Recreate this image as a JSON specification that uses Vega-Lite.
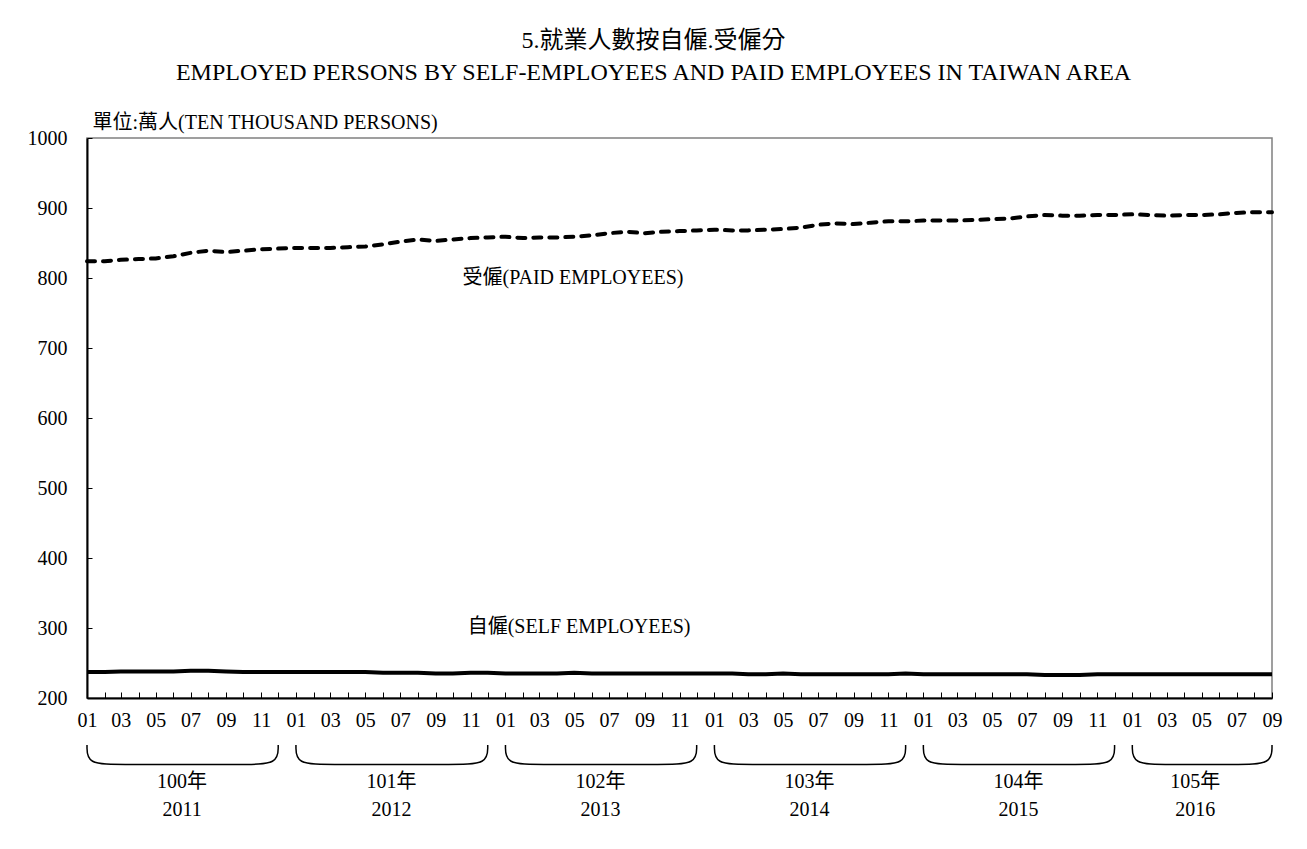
{
  "$schema": "https://vega.github.io/schema/vega-lite/v6.json",
  "width": 1185,
  "height": 560,
  "autosize": {"type": "none"},
  "padding": {"left": 87, "top": 138, "right": 35, "bottom": 151},
  "background": "white",
  "title": {
    "text": ["5.就業人數按自僱.受僱分", "EMPLOYED PERSONS BY SELF-EMPLOYEES AND PAID EMPLOYEES IN TAIWAN AREA"],
    "anchor": "middle",
    "dx": -26,
    "font": "Liberation Serif, Noto Sans CJK TC",
    "fontSize": 24,
    "fontWeight": "normal",
    "color": "black",
    "lineHeight": 32,
    "offset": 27
  },
  "config": {
    "view": {"stroke": "#808080", "strokeWidth": 1.5},
    "axis": {"grid": false}
  },
  "datasets": {
    "emp": [
      {"m": "2011-01-01", "paid": 824, "self": 237},
      {"m": "2011-02-01", "paid": 824, "self": 237},
      {"m": "2011-03-01", "paid": 826, "self": 238},
      {"m": "2011-04-01", "paid": 827, "self": 238},
      {"m": "2011-05-01", "paid": 828, "self": 238},
      {"m": "2011-06-01", "paid": 831, "self": 238},
      {"m": "2011-07-01", "paid": 836, "self": 239},
      {"m": "2011-08-01", "paid": 839, "self": 239},
      {"m": "2011-09-01", "paid": 837, "self": 238},
      {"m": "2011-10-01", "paid": 839, "self": 237},
      {"m": "2011-11-01", "paid": 841, "self": 237},
      {"m": "2011-12-01", "paid": 842, "self": 237},
      {"m": "2012-01-01", "paid": 843, "self": 237},
      {"m": "2012-02-01", "paid": 843, "self": 237},
      {"m": "2012-03-01", "paid": 843, "self": 237},
      {"m": "2012-04-01", "paid": 844, "self": 237},
      {"m": "2012-05-01", "paid": 845, "self": 237},
      {"m": "2012-06-01", "paid": 848, "self": 236},
      {"m": "2012-07-01", "paid": 852, "self": 236},
      {"m": "2012-08-01", "paid": 855, "self": 236},
      {"m": "2012-09-01", "paid": 853, "self": 235},
      {"m": "2012-10-01", "paid": 855, "self": 235},
      {"m": "2012-11-01", "paid": 857, "self": 236},
      {"m": "2012-12-01", "paid": 858, "self": 236},
      {"m": "2013-01-01", "paid": 859, "self": 235},
      {"m": "2013-02-01", "paid": 857, "self": 235},
      {"m": "2013-03-01", "paid": 858, "self": 235},
      {"m": "2013-04-01", "paid": 858, "self": 235},
      {"m": "2013-05-01", "paid": 859, "self": 236},
      {"m": "2013-06-01", "paid": 861, "self": 235},
      {"m": "2013-07-01", "paid": 864, "self": 235},
      {"m": "2013-08-01", "paid": 866, "self": 235},
      {"m": "2013-09-01", "paid": 864, "self": 235},
      {"m": "2013-10-01", "paid": 866, "self": 235},
      {"m": "2013-11-01", "paid": 867, "self": 235},
      {"m": "2013-12-01", "paid": 868, "self": 235},
      {"m": "2014-01-01", "paid": 869, "self": 235},
      {"m": "2014-02-01", "paid": 868, "self": 235},
      {"m": "2014-03-01", "paid": 868, "self": 234},
      {"m": "2014-04-01", "paid": 869, "self": 234},
      {"m": "2014-05-01", "paid": 870, "self": 235},
      {"m": "2014-06-01", "paid": 872, "self": 234},
      {"m": "2014-07-01", "paid": 876, "self": 234},
      {"m": "2014-08-01", "paid": 878, "self": 234},
      {"m": "2014-09-01", "paid": 877, "self": 234},
      {"m": "2014-10-01", "paid": 879, "self": 234},
      {"m": "2014-11-01", "paid": 881, "self": 234},
      {"m": "2014-12-01", "paid": 881, "self": 235},
      {"m": "2015-01-01", "paid": 882, "self": 234},
      {"m": "2015-02-01", "paid": 882, "self": 234},
      {"m": "2015-03-01", "paid": 882, "self": 234},
      {"m": "2015-04-01", "paid": 883, "self": 234},
      {"m": "2015-05-01", "paid": 884, "self": 234},
      {"m": "2015-06-01", "paid": 885, "self": 234},
      {"m": "2015-07-01", "paid": 888, "self": 234},
      {"m": "2015-08-01", "paid": 890, "self": 233},
      {"m": "2015-09-01", "paid": 889, "self": 233},
      {"m": "2015-10-01", "paid": 889, "self": 233},
      {"m": "2015-11-01", "paid": 890, "self": 234},
      {"m": "2015-12-01", "paid": 890, "self": 234},
      {"m": "2016-01-01", "paid": 891, "self": 234},
      {"m": "2016-02-01", "paid": 890, "self": 234},
      {"m": "2016-03-01", "paid": 889, "self": 234},
      {"m": "2016-04-01", "paid": 890, "self": 234},
      {"m": "2016-05-01", "paid": 890, "self": 234},
      {"m": "2016-06-01", "paid": 891, "self": 234},
      {"m": "2016-07-01", "paid": 893, "self": 234},
      {"m": "2016-08-01", "paid": 894, "self": 234},
      {"m": "2016-09-01", "paid": 894, "self": 234}
    ],
    "brackets": [
      {"yr": "2011", "k": 0, "t": "2011-01-01", "v": 133},
      {"yr": "2011", "k": 1, "t": "2011-01-01", "v": 105},
      {"yr": "2011", "k": 2, "t": "2011-03-01", "v": 105},
      {"yr": "2011", "k": 3, "t": "2011-10-01", "v": 105},
      {"yr": "2011", "k": 4, "t": "2011-12-01", "v": 105},
      {"yr": "2011", "k": 5, "t": "2011-12-01", "v": 133},
      {"yr": "2012", "k": 0, "t": "2012-01-01", "v": 133},
      {"yr": "2012", "k": 1, "t": "2012-01-01", "v": 105},
      {"yr": "2012", "k": 2, "t": "2012-03-01", "v": 105},
      {"yr": "2012", "k": 3, "t": "2012-10-01", "v": 105},
      {"yr": "2012", "k": 4, "t": "2012-12-01", "v": 105},
      {"yr": "2012", "k": 5, "t": "2012-12-01", "v": 133},
      {"yr": "2013", "k": 0, "t": "2013-01-01", "v": 133},
      {"yr": "2013", "k": 1, "t": "2013-01-01", "v": 105},
      {"yr": "2013", "k": 2, "t": "2013-03-01", "v": 105},
      {"yr": "2013", "k": 3, "t": "2013-10-01", "v": 105},
      {"yr": "2013", "k": 4, "t": "2013-12-01", "v": 105},
      {"yr": "2013", "k": 5, "t": "2013-12-01", "v": 133},
      {"yr": "2014", "k": 0, "t": "2014-01-01", "v": 133},
      {"yr": "2014", "k": 1, "t": "2014-01-01", "v": 105},
      {"yr": "2014", "k": 2, "t": "2014-03-01", "v": 105},
      {"yr": "2014", "k": 3, "t": "2014-10-01", "v": 105},
      {"yr": "2014", "k": 4, "t": "2014-12-01", "v": 105},
      {"yr": "2014", "k": 5, "t": "2014-12-01", "v": 133},
      {"yr": "2015", "k": 0, "t": "2015-01-01", "v": 133},
      {"yr": "2015", "k": 1, "t": "2015-01-01", "v": 105},
      {"yr": "2015", "k": 2, "t": "2015-03-01", "v": 105},
      {"yr": "2015", "k": 3, "t": "2015-10-01", "v": 105},
      {"yr": "2015", "k": 4, "t": "2015-12-01", "v": 105},
      {"yr": "2015", "k": 5, "t": "2015-12-01", "v": 133},
      {"yr": "2016", "k": 0, "t": "2016-01-01", "v": 133},
      {"yr": "2016", "k": 1, "t": "2016-01-01", "v": 105},
      {"yr": "2016", "k": 2, "t": "2016-03-01", "v": 105},
      {"yr": "2016", "k": 3, "t": "2016-07-01", "v": 105},
      {"yr": "2016", "k": 4, "t": "2016-09-01", "v": 105},
      {"yr": "2016", "k": 5, "t": "2016-09-01", "v": 133}
    ],
    "years": [
      {"t": "2011-06-16", "roc": "100年", "ad": "2011"},
      {"t": "2012-06-16", "roc": "101年", "ad": "2012"},
      {"t": "2013-06-16", "roc": "102年", "ad": "2013"},
      {"t": "2014-06-16", "roc": "103年", "ad": "2014"},
      {"t": "2015-06-16", "roc": "104年", "ad": "2015"},
      {"t": "2016-04-20", "roc": "105年", "ad": "2016"}
    ],
    "labels": [
      {"t": "2012-10-18", "v": 800, "label": "受僱(PAID EMPLOYEES)"},
      {"t": "2012-10-27", "v": 301, "label": "自僱(SELF EMPLOYEES)"}
    ]
  },
  "layer": [
    {
      "data": {"name": "emp"},
      "mark": {"type": "line", "color": "black", "strokeWidth": 4, "strokeDash": [8, 8], "strokeCap": "round"},
      "encoding": {
        "x": {
          "field": "m", "type": "temporal",
          "scale": {"type": "utc", "domain": [{"year": 2011, "month": 1, "date": 1, "utc": true}, {"year": 2016, "month": 9, "date": 1, "utc": true}]},
          "axis": {
            "title": null,
            "tickCount": {"interval": "month", "step": 1},
            "labelExpr": "(utcmonth(datum.value) % 2 == 0) ? utcFormat(datum.value, '%m') : ''",
            "labelOverlap": false,
            "labelFlush": false,
            "labelBound": false,
            "labelFont": "Liberation Serif",
            "labelFontSize": 20,
            "labelColor": "black",
            "labelPadding": 18,
            "tickColor": "black",
            "tickSize": -6,
            "tickWidth": 1,
            "domainColor": "black",
            "domainWidth": 2
          }
        },
        "y": {
          "field": "paid", "type": "quantitative",
          "scale": {"domain": [200, 1000], "nice": false, "zero": false},
          "axis": {
            "title": "單位:萬人(TEN THOUSAND PERSONS)",
            "titleAngle": 0,
            "titleAlign": "left",
            "titleBaseline": "bottom",
            "titleX": 5,
            "titleY": -6,
            "titleFont": "Liberation Serif, Noto Sans CJK TC",
            "titleFontSize": 20,
            "titleFontWeight": "normal",
            "titleColor": "black",
            "values": [200, 300, 400, 500, 600, 700, 800, 900, 1000],
            "format": "d",
            "labelFont": "Liberation Serif",
            "labelFontSize": 20,
            "labelColor": "black",
            "labelPadding": 25,
            "tickColor": "black",
            "tickSize": -5,
            "domainColor": "black",
            "domainWidth": 2
          }
        }
      }
    },
    {
      "data": {"name": "emp"},
      "mark": {"type": "line", "color": "black", "strokeWidth": 4},
      "encoding": {
        "x": {"field": "m", "type": "temporal"},
        "y": {"field": "self", "type": "quantitative"}
      }
    },
    {
      "data": {"name": "brackets"},
      "mark": {"type": "line", "color": "black", "strokeWidth": 1.5, "interpolate": "basis"},
      "encoding": {
        "x": {"field": "t", "type": "temporal"},
        "y": {"field": "v", "type": "quantitative"},
        "detail": {"field": "yr"},
        "order": {"field": "k"}
      }
    },
    {
      "data": {"name": "years"},
      "mark": {"type": "text", "font": "Liberation Serif, Noto Sans CJK TC", "fontSize": 20, "color": "black", "align": "center", "baseline": "middle"},
      "encoding": {
        "x": {"field": "t", "type": "temporal"},
        "y": {"datum": 80, "type": "quantitative"},
        "text": {"field": "roc"}
      }
    },
    {
      "data": {"name": "years"},
      "mark": {"type": "text", "font": "Liberation Serif", "fontSize": 20, "color": "black", "align": "center", "baseline": "middle"},
      "encoding": {
        "x": {"field": "t", "type": "temporal"},
        "y": {"datum": 40, "type": "quantitative"},
        "text": {"field": "ad"}
      }
    },
    {
      "data": {"name": "labels"},
      "mark": {"type": "text", "font": "Liberation Serif, Noto Sans CJK TC", "fontSize": 20, "color": "black", "align": "left", "baseline": "middle"},
      "encoding": {
        "x": {"field": "t", "type": "temporal"},
        "y": {"field": "v", "type": "quantitative"},
        "text": {"field": "label"}
      }
    }
  ]
}
